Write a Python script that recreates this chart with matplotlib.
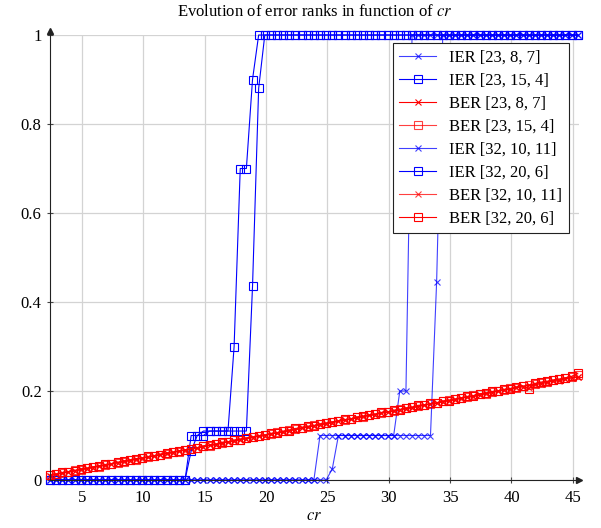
import numpy as np
import matplotlib
matplotlib.use("Agg")
import matplotlib.pyplot as plt

plt.rcParams['font.family'] = ['Liberation Serif', 'DejaVu Serif']
plt.rcParams['mathtext.fontset'] = 'stix'

# cr values (step 0.5)
cr = np.arange(87) * 0.5 + 2.4

# IER curves
ier_23_8_7 = [0.0] * 44 + [0.1] * 13 + [0.2, 0.2] + [1.0] * 28
ier_23_15_4 = [0.0] * 23 + [0.1, 0.1, 0.1, 0.11, 0.11, 0.11, 0.11, 0.3, 0.7, 0.7, 0.9] + [1.0] * 53
ier_32_10_11 = [0.0] * 46 + [0.025] + [0.1] * 16 + [0.445] + [1.0] * 23
ier_32_20_6 = [0.0] * 23 + [0.065, 0.1] + [0.11] * 8 + [0.435, 0.88] + [1.0] * 52

# BER curves
ber_23_8_7 = [
    0.010, 0.012, 0.016, 0.018, 0.020, 0.024, 0.025, 0.028, 0.031, 0.033,
    0.036, 0.038, 0.042, 0.043, 0.047, 0.049, 0.051, 0.055, 0.056, 0.060,
    0.061, 0.065, 0.067, 0.070, 0.071, 0.075, 0.078, 0.079, 0.083, 0.085,
    0.087, 0.091, 0.093, 0.095, 0.098, 0.100, 0.104, 0.105, 0.108, 0.111,
    0.113, 0.117, 0.118, 0.122, 0.124, 0.126, 0.129, 0.132, 0.134, 0.137,
    0.139, 0.143, 0.145, 0.147, 0.150, 0.153, 0.154, 0.158, 0.160, 0.162,
    0.165, 0.168, 0.171, 0.172, 0.176, 0.178, 0.180, 0.184, 0.186, 0.188,
    0.190, 0.195, 0.196, 0.200, 0.202, 0.204, 0.208, 0.209, 0.213, 0.215,
    0.216, 0.220, 0.222, 0.224, 0.228, 0.229, 0.232]
ber_23_15_4 = [
    0.012, 0.014, 0.015, 0.019, 0.022, 0.023, 0.027, 0.029, 0.030, 0.034,
    0.037, 0.039, 0.040, 0.044, 0.046, 0.050, 0.052, 0.053, 0.057, 0.059,
    0.063, 0.064, 0.068, 0.069, 0.073, 0.076, 0.077, 0.081, 0.084, 0.086,
    0.089, 0.090, 0.094, 0.097, 0.099, 0.102, 0.103, 0.107, 0.109, 0.112,
    0.115, 0.116, 0.120, 0.123, 0.125, 0.127, 0.130, 0.133, 0.135, 0.138,
    0.141, 0.142, 0.146, 0.149, 0.151, 0.152, 0.156, 0.159, 0.161, 0.164,
    0.167, 0.169, 0.170, 0.174, 0.177, 0.179, 0.181, 0.185, 0.187, 0.190,
    0.193, 0.194, 0.198, 0.201, 0.203, 0.206, 0.207, 0.211, 0.214, 0.216,
    0.219, 0.221, 0.224, 0.226, 0.229, 0.232, 0.236]
ber_32_10_11 = [
    0.009, 0.013, 0.015, 0.017, 0.021, 0.022, 0.026, 0.027, 0.032, 0.032,
    0.035, 0.039, 0.041, 0.045, 0.046, 0.048, 0.052, 0.054, 0.058, 0.058,
    0.062, 0.066, 0.066, 0.071, 0.072, 0.074, 0.079, 0.080, 0.082, 0.086,
    0.088, 0.092, 0.092, 0.096, 0.099, 0.099, 0.103, 0.106, 0.107, 0.112,
    0.112, 0.118, 0.119, 0.121, 0.125, 0.127, 0.128, 0.133, 0.135, 0.136,
    0.140, 0.142, 0.146, 0.146, 0.151, 0.152, 0.155, 0.157, 0.161, 0.163,
    0.164, 0.169, 0.170, 0.173, 0.175, 0.179, 0.181, 0.183, 0.187, 0.187,
    0.191, 0.193, 0.197, 0.199, 0.203, 0.203, 0.207, 0.210, 0.206, 0.214,
    0.217, 0.219, 0.223, 0.222, 0.226, 0.230, 0.231]
ber_32_20_6 = [
    0.011, 0.013, 0.017, 0.019, 0.021, 0.025, 0.026, 0.030, 0.031, 0.035,
    0.036, 0.040, 0.043, 0.045, 0.048, 0.049, 0.053, 0.055, 0.057, 0.061,
    0.062, 0.065, 0.068, 0.070, 0.072, 0.077, 0.078, 0.080, 0.085, 0.085,
    0.090, 0.091, 0.095, 0.096, 0.100, 0.101, 0.105, 0.106, 0.110, 0.111,
    0.116, 0.117, 0.121, 0.122, 0.126, 0.128, 0.131, 0.132, 0.136, 0.137,
    0.142, 0.143, 0.145, 0.148, 0.152, 0.153, 0.157, 0.158, 0.162, 0.163,
    0.168, 0.168, 0.172, 0.173, 0.178, 0.178, 0.182, 0.184, 0.188, 0.189,
    0.194, 0.195, 0.199, 0.200, 0.204, 0.205, 0.209, 0.212, 0.205, 0.217,
    0.220, 0.222, 0.225, 0.227, 0.230, 0.233, 0.240]

series = [
    ('IER [23, 8, 7]', ier_23_8_7, 'blue', 'x', 0.75),
    ('IER [23, 15, 4]', ier_23_15_4, 'blue', 's', 1.0),
    ('BER [23, 8, 7]', ber_23_8_7, 'red', 'x', 1.0),
    ('BER [23, 15, 4]', ber_23_15_4, 'red', 's', 0.75),
    ('IER [32, 10, 11]', ier_32_10_11, 'blue', 'x', 0.75),
    ('IER [32, 20, 6]', ier_32_20_6, 'blue', 's', 1.0),
    ('BER [32, 10, 11]', ber_32_10_11, 'red', 'x', 0.75),
    ('BER [32, 20, 6]', ber_32_20_6, 'red', 's', 1.0),
]

fig = plt.figure(figsize=(6.01, 5.28), dpi=100)
ax = fig.add_axes([50 / 601, 48 / 528, 529 / 601, 445 / 528])

for label, vals, col, mk, a in series:
    ms = 5.5 if mk == 's' else 4
    ax.plot(cr, vals, color=col, marker=mk, markersize=ms, markerfacecolor='none',
            markeredgewidth=0.8, linewidth=0.8, alpha=a, label=label, clip_on=False)

ax.set_xlim(2.4, 45.5)
ax.set_ylim(0, 1)
ax.set_xticks([5, 10, 15, 20, 25, 30, 35, 40, 45])
ax.set_yticks([0, 0.2, 0.4, 0.6, 0.8, 1])
ax.set_yticklabels(['0', '0.2', '0.4', '0.6', '0.8', '1'])
ax.tick_params(direction='inout', length=5, width=0.8, color='#444444', labelsize=12)
ax.tick_params(axis='x', pad=5)
ax.grid(True, color='#d3d3d3', linewidth=0.9)
ax.set_axisbelow(True)
for s in ['top', 'right']:
    ax.spines[s].set_visible(False)
for s in ['left', 'bottom']:
    ax.spines[s].set_color('#222222')
    ax.spines[s].set_linewidth(0.8)
ax.plot(1, 0, '>', color='#222222', ms=4, transform=ax.transAxes, clip_on=False)
ax.plot(0, 1.01, '^', color='#222222', ms=4, transform=ax.transAxes, clip_on=False)

ax.set_xlabel('$cr$', fontsize=12, labelpad=1)
ax.set_title('Evolution of error ranks in function of $cr$', fontsize=12, pad=14)

leg = ax.legend(loc='upper right', bbox_to_anchor=(569 / 601, 485 / 528),
                bbox_transform=fig.transFigure, borderaxespad=0, fontsize=12,
                fancybox=False, framealpha=1, edgecolor='#222222',
                handlelength=2.2, labelspacing=0.42, borderpad=0.4)
leg.get_frame().set_linewidth(0.8)

fig.savefig('out.png', dpi=100)
